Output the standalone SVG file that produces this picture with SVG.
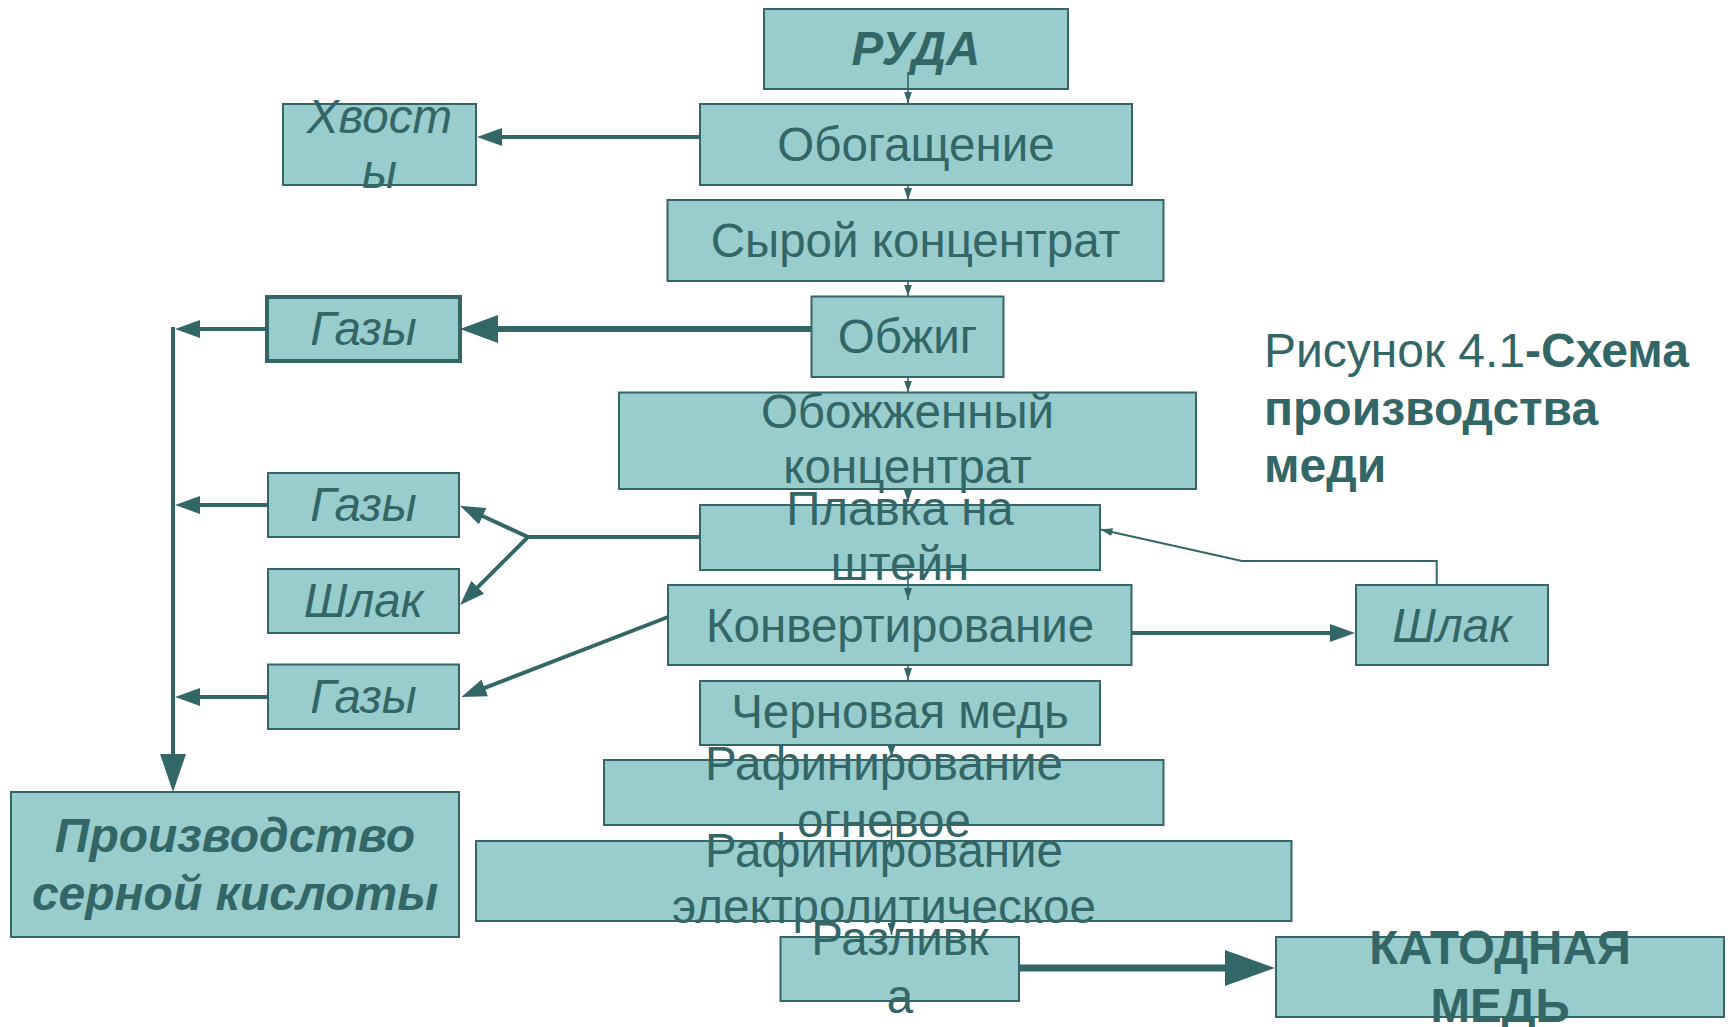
<svg xmlns="http://www.w3.org/2000/svg" width="1731" height="1027" viewBox="0 0 1731 1027">
<style>
.box{fill:#99CCCC;stroke:#336666;stroke-width:2}
.thick{stroke-width:4}
.t{font-family:"Liberation Sans",Arial,sans-serif;font-size:47.5px;fill:#336666;text-anchor:middle}
.i{font-style:italic}
.b{font-weight:bold}
.cap{font-family:"Liberation Sans",Arial,sans-serif;font-size:48px;fill:#336666}
.c{fill:none;stroke:#336666}
.c1{stroke-width:1.6}
.c4{stroke-width:4}
.c6{stroke-width:6}
.c7{stroke-width:7}
</style>
<defs>
<marker id="aS" markerUnits="userSpaceOnUse" markerWidth="12" markerHeight="8" refX="12" refY="4" orient="auto"><path d="M0,0 L12,4 L0,8 z" fill="#336666"/></marker>
<marker id="aM" markerUnits="userSpaceOnUse" markerWidth="25" markerHeight="18" refX="2" refY="9" orient="auto"><path d="M0,0 L25,9 L0,18 z" fill="#336666"/></marker>
<marker id="aL" markerUnits="userSpaceOnUse" markerWidth="38" markerHeight="28" refX="2" refY="14" orient="auto"><path d="M0,0 L38,14 L0,28 z" fill="#336666"/></marker>
<marker id="aV" markerUnits="userSpaceOnUse" markerWidth="38" markerHeight="26" refX="2" refY="13" orient="auto"><path d="M0,0 L38,13 L0,26 z" fill="#336666"/></marker>
<marker id="aXL" markerUnits="userSpaceOnUse" markerWidth="50" markerHeight="36" refX="2" refY="18" orient="auto"><path d="M0,0 L50,18 L0,36 z" fill="#336666"/></marker>
</defs>

<g id="ruda"><rect class="box" x="764" y="9" width="304" height="80"/><text class="t i b" x="916" y="65">РУДА</text></g>
<g id="hvosty"><rect class="box" x="283" y="104" width="193" height="81"/><text class="t i" x="379.5" y="133">Хвост</text><text class="t i" x="379.5" y="188">ы</text></g>
<g id="obogashchenie"><rect class="box" x="700" y="104" width="432" height="81"/><text class="t" x="916" y="161">Обогащение</text></g>
<g id="syroy"><rect class="box" x="667.5" y="200" width="496" height="81"/><text class="t" x="915.5" y="257">Сырой концентрат</text></g>
<g id="gazy1"><rect class="box thick" x="267" y="297" width="193" height="64"/><text class="t i" x="363.5" y="345">Газы</text></g>
<g id="obzhig"><rect class="box" x="811.5" y="296.5" width="192" height="80.5"/><text class="t" x="907.5" y="353">Обжиг</text></g>
<g id="obozhzhenny"><rect class="box" x="619" y="392.5" width="577" height="96.5"/><text class="t" x="907.5" y="428">Обожженный</text><text class="t" x="907.5" y="483">концентрат</text></g>
<g id="gazy2"><rect class="box" x="268" y="473" width="191" height="64"/><text class="t i" x="363.5" y="521">Газы</text></g>
<g id="plavka"><rect class="box" x="700" y="505" width="400" height="65"/><text class="t" x="900" y="525">Плавка на</text><text class="t" x="900" y="580">штейн</text></g>
<g id="shlak1"><rect class="box" x="268" y="569" width="191" height="64"/><text class="t i" x="363.5" y="617">Шлак</text></g>
<g id="konvert"><rect class="box" x="668" y="585" width="463.5" height="80"/><text class="t" x="900" y="642">Конвертирование</text></g>
<g id="shlak2"><rect class="box" x="1356" y="585" width="192" height="80"/><text class="t i" x="1452" y="642">Шлак</text></g>
<g id="gazy3"><rect class="box" x="268" y="664.5" width="191" height="64.5"/><text class="t i" x="363.5" y="713">Газы</text></g>
<g id="chernovaya"><rect class="box" x="700" y="681" width="400" height="64"/><text class="t" x="900" y="728">Черновая медь</text></g>
<g id="raf-ognevoe"><rect class="box" x="604" y="760" width="559.5" height="65"/><text class="t" x="884" y="780">Рафинирование</text><text class="t" x="884" y="837">огневое</text></g>
<g id="raf-elektro"><rect class="box" x="476" y="841" width="815.5" height="80"/><text class="t" x="884" y="867">Рафинирование</text><text class="t" x="884" y="923">электролитическое</text></g>
<g id="proizvodstvo"><rect class="box" x="11" y="792" width="448" height="145"/><text class="t i b" x="235" y="852" style="font-size:48px">Производство</text><text class="t i b" x="235" y="910" style="font-size:48px">серной кислоты</text></g>
<g id="razlivka"><rect class="box" x="780.5" y="937" width="238.5" height="64"/><text class="t" x="900" y="955">Разливк</text><text class="t" x="900" y="1013">а</text></g>
<g id="katodnaya"><rect class="box" x="1276" y="937" width="448" height="80"/><text class="t b" x="1500" y="964">КАТОДНАЯ</text><text class="t b" x="1500" y="1022">МЕДЬ</text></g>

<g id="caption">
<text class="cap" x="1264" y="367">Рисунок 4.1<tspan class="b">-Схема</tspan></text>
<text class="cap b" x="1264" y="425">производства</text>
<text class="cap b" x="1264" y="482">меди</text>
</g>

<g id="connectors">
<path class="c c1" d="M914,73 H908 V103.5" marker-end="url(#aS)"/>
<path class="c c1" d="M908,185 V200" marker-end="url(#aS)"/>
<path class="c c1" d="M908,281 V296.5" marker-end="url(#aS)"/>
<path class="c c1" d="M908,377 V392.5" marker-end="url(#aS)"/>
<path class="c c1" d="M908,489 V502" marker-end="url(#aS)"/>
<path class="c c1" d="M908,570 V600" marker-end="url(#aS)"/>
<path class="c c1" d="M908,665 V680" marker-end="url(#aS)"/>
<path class="c c1" d="M891.5,745 V757" marker-end="url(#aS)"/>
<path class="c c1" d="M891.5,825 V852" marker-end="url(#aS)"/>
<path class="c c1" d="M891.5,921 V935" marker-end="url(#aS)"/>
<path class="c c4" d="M700,137 H500" marker-end="url(#aM)"/>
<path class="c c6" d="M811,329 H496" marker-end="url(#aL)"/>
<path class="c c4" d="M267,329 H198" marker-end="url(#aM)"/>
<path class="c c4" d="M268,505 H198" marker-end="url(#aM)"/>
<path class="c c4" d="M268,697 H198" marker-end="url(#aM)"/>
<path class="c c4" d="M173,327 V756" marker-end="url(#aV)"/>
<path class="c c4" d="M700,537 H528 L480.9,515.3" marker-end="url(#aM)"/>
<path class="c c4" d="M528,537 L476.3,588.7" marker-end="url(#aM)"/>
<path class="c c4" d="M668,617 L482.9,688.7" marker-end="url(#aM)"/>
<path class="c c4" d="M1132,633 H1332" marker-end="url(#aM)"/>
<path class="c" style="stroke-width:2" d="M1436.7,585 V561 H1242 L1100.5,529.5" marker-end="url(#aS)"/>
<path class="c c7" d="M1019,968 H1227" marker-end="url(#aXL)"/>
</g>
</svg>
